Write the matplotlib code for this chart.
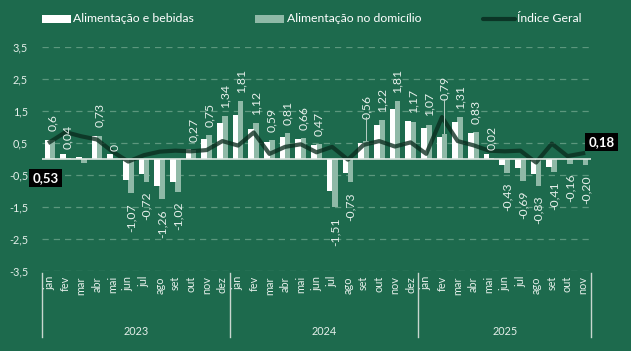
import matplotlib
matplotlib.use("Agg")
import matplotlib.pyplot as plt
from matplotlib.patches import Rectangle
from matplotlib.lines import Line2D
import numpy as np

months = ["jan", "fev", "mar", "abr", "mai", "jun", "jul", "ago", "set", "out", "nov", "dez",
          "jan", "fev", "mar", "abr", "mai", "jun", "jul", "ago", "set", "out", "nov", "dez",
          "jan", "fev", "mar", "abr", "mai", "jun", "jul", "ago", "set", "out", "nov"]
years = ["2023", "2024", "2025"]
year_counts = [12, 12, 11]

alim_bebidas = [0.59, 0.16, 0.05, 0.71, 0.16, -0.66, -0.46, -0.85, -0.71, 0.31, 0.63, 1.11,
                1.38, 0.95, 0.53, 0.70, 0.62, 0.44, -1.00, -0.44, 0.50, 1.06, 1.55, 1.18,
                0.96, 0.70, 1.17, 0.82, 0.17, -0.18, -0.27, -0.46, -0.26, 0.01, -0.01]
alim_domicilio = [0.60, 0.04, -0.14, 0.73, 0.00, -1.07, -0.72, -1.26, -1.02, 0.27, 0.75, 1.34,
                  1.81, 1.12, 0.59, 0.81, 0.66, 0.47, -1.51, -0.73, 0.56, 1.22, 1.81, 1.17,
                  1.07, 0.79, 1.31, 0.83, 0.02, -0.43, -0.69, -0.83, -0.41, -0.16, -0.20]
indice_geral = [0.53, 0.84, 0.71, 0.61, 0.23, -0.08, 0.12, 0.23, 0.26, 0.24, 0.28, 0.56,
                0.42, 0.83, 0.16, 0.38, 0.46, 0.21, 0.38, -0.02, 0.44, 0.56, 0.39, 0.52,
                0.16, 1.31, 0.56, 0.43, 0.26, 0.24, 0.26, -0.11, 0.48, 0.09, 0.18]
bar_labels = ["0,6", "0,04", "", "0,73", "0", "-1,07", "-0,72", "-1,26", "-1,02", "0,27", "0,75", "1,34",
              "1,81", "1,12", "0,59", "0,81", "0,66", "0,47", "-1,51", "-0,73", "0,56", "1,22", "1,81", "1,17",
              "1,07", "0,79", "1,31", "0,83", "0,02", "-0,43", "-0,69", "-0,83", "-0,41", "-0,16", "-0,20"]
line_first_label = "0,53"
line_last_label = "0,18"
yticks = [3.5, 2.5, 1.5, 0.5, -0.5, -1.5, -2.5, -3.5]
ytick_labels = ["3,5", "2,5", "1,5", "0,5", "-0,5", "-1,5", "-2,5", "-3,5"]

BG = "#1d6a4d"
LIGHT = "#8fb9a7"
LINE = "#0a2c1e"
TXT = "#e4eee9"
GRID = "#5c977d"

plt.rcParams['font.family'] = ['Lato', 'DejaVu Sans']

W, H = 631, 351
fig = plt.figure(figsize=(W / 100, H / 100), dpi=100, facecolor=BG)
ax = fig.add_axes([42 / W, 1 - 271 / H, (591 - 42) / W, (271 - 47) / H])
ax.set_facecolor(BG)

n = len(months)
x = np.arange(n)
bw = 0.36
ax.bar(x + 0.16, alim_domicilio, width=bw, color=LIGHT, zorder=2)
ax.bar(x - 0.16, alim_bebidas, width=bw, color="white", zorder=3)
ax.plot(x, indice_geral, color=LINE, lw=3.0, alpha=0.78, zorder=4, solid_joinstyle="round")

ax.set_xlim(-0.5, n - 0.5)
ax.set_ylim(-3.5, 3.5)
for yv in yticks:
    ax.axhline(yv, color=GRID, lw=0.9, ls=(0, (5, 4)), zorder=1)
ax.axhline(0, color="#dfe8e3", lw=1.2, zorder=5)
ax.set_yticks(yticks)
ax.set_yticklabels(ytick_labels, color=TXT, fontsize=7.8)
ax.tick_params(axis="y", length=0, pad=10)
ax.set_xticks([])
for s in ax.spines.values():
    s.set_visible(False)

# data labels (domicílio series)
extra = {20: 10, 25: 18}
for i, (v, lab) in enumerate(zip(alim_domicilio, bar_labels)):
    if not lab:
        continue
    off = 6 + extra.get(i, 0)
    if v >= 0:
        ax.annotate(lab, (x[i] + 0.16, max(v, 0)), xytext=(0, off), textcoords="offset points",
                    rotation=90, ha="center", va="bottom", color=TXT, fontsize=8.8, zorder=6)
    else:
        ax.annotate(lab, (x[i] + 0.16, v), xytext=(0, -7), textcoords="offset points",
                    rotation=90, ha="center", va="top", color=TXT, fontsize=8.8, zorder=6)
    if i in extra:
        ax.plot([x[i] + 0.16, x[i] + 0.16], [v + 0.02, v + (off + 1) / 72 * 100 / 32],
                color="#b9cfc5", lw=0.7, zorder=6)

# line end labels
bbox = dict(boxstyle="square,pad=0.25", fc="black", ec="none")
ax.annotate(line_first_label, (x[0], indice_geral[0]), xytext=(-3, -26), textcoords="offset points",
            ha="center", va="center", color="white", fontsize=9.5, fontweight="bold", bbox=bbox, zorder=7,
            annotation_clip=False)
ax.annotate(line_last_label, (x[-1], indice_geral[-1]), xytext=(13, 8), textcoords="offset points",
            ha="center", va="center", color="white", fontsize=9.5, fontweight="bold", bbox=bbox, zorder=7,
            annotation_clip=False)

# month labels
for i, m in enumerate(months):
    ax.text(x[i], -3.66, m, rotation=90, ha="center", va="top", color=TXT, fontsize=7.8)

# year labels and separators
start = 0
bounds = [-0.5]
for yr, c in zip(years, year_counts):
    ax.text(start + (c - 1) / 2, -5.4, yr, ha="center", va="center", color=TXT, fontsize=7.8)
    start += c
    bounds.append(start - 0.5)
for b in bounds:
    ax.plot([b, b], [-3.55, -5.55], color="#c9d6cf", lw=1.0, clip_on=False)

# legend (manual)
def fx(px):
    return px / W

def fy(py):
    return 1 - py / H

ly = 19
fig.patches.append(Rectangle((fx(42), fy(ly + 4)), fx(71) - fx(42), 8 / H, transform=fig.transFigure,
                             fc="white", ec="none"))
fig.text(fx(73), fy(ly), "Alimentação e bebidas", color="white", fontsize=8.8, va="center")
fig.patches.append(Rectangle((fx(255), fy(ly + 4)), fx(284) - fx(255), 8 / H, transform=fig.transFigure,
                             fc=LIGHT, ec="none"))
fig.text(fx(287), fy(ly), "Alimentação no domicílio", color="white", fontsize=8.8, va="center")
fig.lines.append(Line2D([fx(483), fx(515)], [fy(ly), fy(ly)], transform=fig.transFigure,
                        color="#0b3526", lw=3.0, solid_capstyle="round"))
fig.text(fx(517), fy(ly), "Índice Geral", color="white", fontsize=8.8, va="center")

fig.savefig("out.png", dpi=100, facecolor=BG)
